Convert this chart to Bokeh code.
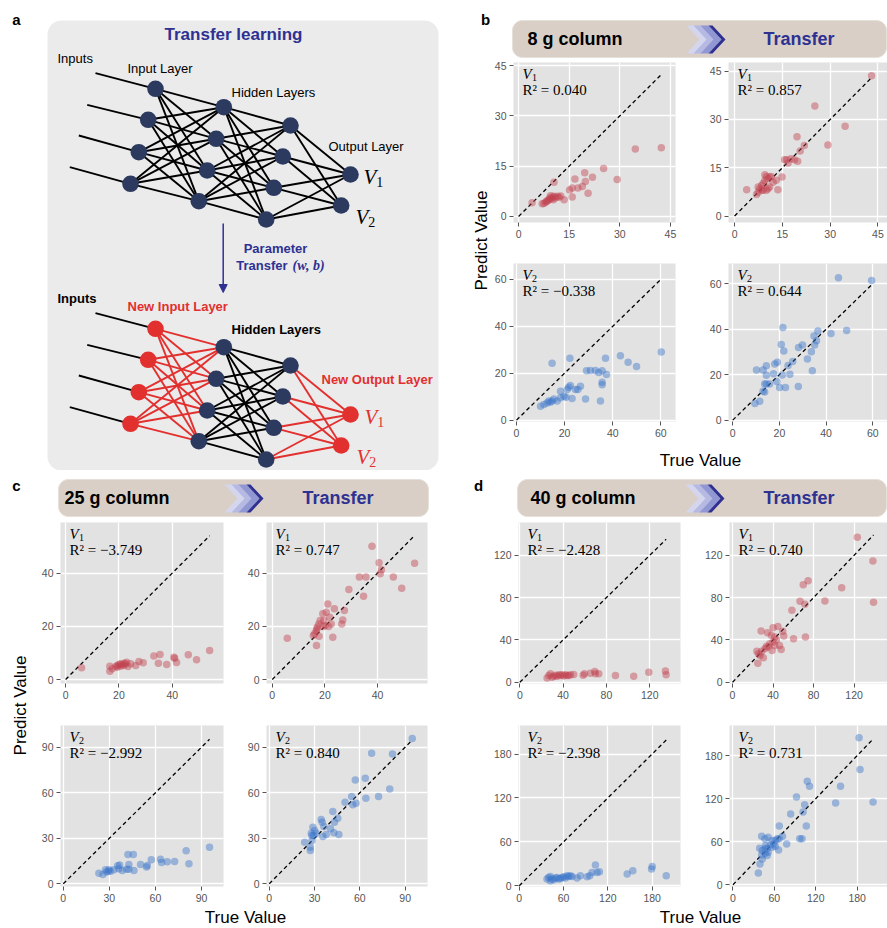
import numpy as np
from bokeh.plotting import figure
from bokeh.layouts import row, column
from bokeh.models import Range1d, FixedTicker, Arrow, NormalHead
from bokeh.core.properties import value
from bokeh.embed import file_html
from bokeh.resources import INLINE

# ---------------- data ----------------
# panel b : 8 g column
b_v1_base_true = [4.0, 7.0, 7.5, 8.0, 8.3, 8.6, 9.0, 9.2, 9.5, 9.8, 10.0, 10.3, 10.5, 11.0, 11.5, 12.0, 12.5, 13.5, 10.5,
                  15.1, 15.9, 15.9, 16.7, 17.6, 18.9, 19.6, 19.8, 20.6, 21.9, 25.2, 29.2, 34.6, 42.3]
b_v1_base_pred = [4.1, 3.8, 3.9, 4.2, 4.5, 4.7, 5.0, 5.5, 6.2, 5.3, 5.8, 5.0, 6.0, 5.6, 6.0, 5.7, 6.1, 5.0, 10.2,
                  7.9, 8.5, 5.8, 11.2, 8.5, 8.9, 13.0, 10.4, 6.9, 11.7, 14.3, 11.0, 20.1, 20.5]
b_v1_tr_true = [3.8, 6.9, 7.4, 7.9, 8.5, 9.0, 9.5, 9.5, 10.0, 10.5, 11.0, 11.5, 10.0, 10.5, 9.0, 11.0, 12.1, 13.1, 8.5,
                7.4, 13.6, 14.9, 15.7, 16.4, 16.8, 17.7, 18.8, 19.6, 19.8, 20.6, 21.9, 25.2, 29.3, 34.7, 43.0]
b_v1_tr_pred = [8.2, 6.7, 7.4, 8.5, 9.5, 10.2, 11.1, 12.8, 12.3, 11.6, 12.1, 12.3, 8.0, 8.5, 8.0, 9.0, 10.5, 11.1, 8.0,
                9.0, 8.2, 12.1, 17.5, 17.5, 16.5, 17.8, 17.5, 24.6, 17.0, 20.2, 21.9, 34.2, 22.1, 27.9, 43.6]
b_v2_base_true = [10.0, 11.4, 12.7, 13.4, 14.1, 14.8, 15.5, 14.8, 16.9, 18.3, 18.3, 19.7, 20.6, 21.1, 21.7, 22.4, 22.2,
                  23.1, 24.5, 25.5, 26.6, 28.7, 29.1, 30.7, 32.8, 34.2, 35.6, 35.6, 35.6, 34.9, 37.0, 37.4, 43.2,
                  46.4, 49.9, 60.2]
b_v2_base_pred = [5.9, 6.6, 7.3, 8.1, 7.6, 8.1, 9.0, 24.3, 8.1, 12.3, 9.5, 10.2, 9.7, 13.0, 14.0, 14.8, 26.4,
                  9.2, 13.0, 13.0, 14.4, 9.0, 21.0, 21.2, 21.2, 20.3, 21.0, 16.1, 15.1, 8.1, 26.4, 19.4, 27.4,
                  24.7, 22.9, 29.0]
b_v2_tr_true = [9.5, 10.2, 11.6, 13.0, 13.0, 13.7, 13.7, 14.4, 14.4, 14.4, 15.8, 17.5, 18.0, 19.1, 18.9, 20.1, 20.8,
                21.5, 21.9, 21.2, 22.6, 23.7, 24.5, 25.7, 28.1, 28.2, 29.9, 32.0, 33.7, 34.1, 34.8, 35.1, 35.9,
                36.5, 42.1, 48.8, 45.3, 59.5]
b_v2_tr_pred = [7.3, 22.1, 8.3, 22.1, 12.7, 15.9, 12.4, 23.9, 19.7, 15.9, 15.9, 20.4, 24.7, 25.5, 17.0, 14.4, 33.3,
                40.8, 30.4, 19.9, 14.4, 24.0, 20.2, 25.8, 14.8, 31.9, 33.0, 26.9, 30.1, 21.7, 37.0, 33.0, 34.9,
                39.2, 38.1, 39.4, 62.6, 61.4]

# panel c : 25 g column
c_v1_base_true = [6.0, 16.6, 16.6, 17.5, 18.8, 19.4, 20.0, 20.6, 21.3, 21.9, 22.5, 22.9, 19.4, 20.6, 21.9, 23.4,
                  24.4, 26.3, 27.5, 29.1, 33.1, 34.8, 35.4, 37.9, 40.6, 40.9, 41.6, 46.0, 49.1, 54.0]
c_v1_base_pred = [4.4, 5.0, 3.1, 4.0, 4.9, 5.3, 5.6, 5.9, 5.5, 6.1, 5.9, 6.5, 4.6, 5.0, 5.3, 4.9,
                  5.9, 5.3, 6.8, 6.3, 8.8, 6.1, 9.4, 5.6, 8.4, 8.0, 6.4, 9.3, 7.4, 10.9]
c_v1_tr_true = [5.7, 16.8, 17.0, 17.8, 15.6, 16.1, 16.7, 17.1, 17.7, 18.2, 19.2, 19.4, 19.6, 20.1, 20.5, 21.1, 21.4,
                21.8, 22.4, 23.0, 23.6, 26.4, 26.8, 27.4, 29.1, 33.1, 34.7, 35.6, 37.9, 40.6, 41.0, 41.5, 46.0,
                49.2, 54.1]
c_v1_tr_pred = [15.5, 12.8, 19.0, 16.3, 16.5, 17.2, 18.2, 19.7, 20.9, 22.2, 24.7, 19.9, 22.2, 20.3, 25.3, 28.4, 19.9,
                23.4, 20.9, 15.9, 26.6, 20.9, 22.4, 25.9, 33.8, 38.5, 31.3, 38.5, 50.1, 43.9, 39.7, 41.2, 38.5,
                34.3, 43.7]
c_v2_base_true = [23.2, 25.8, 27.5, 28.2, 29.3, 29.7, 30.8, 33.0, 35.4, 36.2, 36.7, 38.4, 41.2, 42.1, 42.7, 42.7,
                  45.6, 46.0, 50.3, 54.2, 54.7, 57.3, 63.3, 64.0, 67.7, 72.5, 80.0, 81.8, 95.2]
c_v2_base_pred = [7.0, 6.1, 9.2, 7.7, 8.3, 9.2, 8.3, 9.2, 11.8, 9.9, 12.3, 8.8, 9.6, 19.3, 12.7, 9.6,
                  19.3, 8.8, 12.7, 11.0, 12.1, 15.8, 16.2, 14.0, 14.5, 14.7, 21.7, 13.2, 24.1]
c_v2_tr_true = [23.5, 27.2, 27.2, 27.9, 28.3, 28.9, 29.4, 30.0, 31.1, 28.3, 34.4, 35.1, 35.5, 36.2, 37.7, 40.6, 42.1,
                42.8, 43.2, 45.4, 46.1, 50.2, 54.6, 55.3, 57.0, 57.5, 63.6, 64.0, 67.8, 72.4, 79.8, 81.6, 94.7]
c_v2_tr_pred = [27.4, 21.9, 24.1, 33.3, 28.5, 37.3, 31.8, 35.1, 33.3, 31.8, 42.3, 40.6, 31.1, 37.7, 32.5, 36.2, 47.6,
                33.6, 40.6, 43.2, 32.5, 53.7, 57.5, 52.0, 68.4, 53.1, 69.5, 56.4, 86.0, 57.5, 62.5, 85.5, 95.8]

# panel d : 40 g column
d_v1_base_true = [25.2, 26.8, 28.3, 29.8, 31.4, 32.9, 34.5, 36.0, 37.5, 39.1, 40.6, 42.2, 43.7, 45.2, 46.8, 49.8,
                  58.5, 59.7, 65.2, 69.2, 69.8, 72.9, 88.3, 105.2, 119.1, 134.5, 135.1]
d_v1_base_pred = [4.1, 6.3, 7.9, 4.8, 5.7, 6.7, 5.7, 7.0, 6.3, 7.1, 5.8, 7.1, 6.3, 6.3, 7.0, 7.3,
                  6.7, 7.9, 8.6, 10.2, 7.9, 7.9, 6.3, 5.7, 9.5, 10.5, 7.0]
d_v1_tr_true = [123.2, 138.6, 139.2, 107.8, 91.2, 74.6, 69.8, 66.6, 71.4, 58.6, 60.2, 72.0, 28.2, 34.6, 40.0, 44.8,
                49.6, 50.6, 38.4, 41.6, 43.2, 40.0, 36.8, 33.6, 46.4, 48.0, 39.0, 32.0, 28.8, 24.0, 25.6, 27.2,
                30.4, 25.0, 41.6, 35.2]
d_v1_tr_pred = [137.0, 114.6, 75.6, 89.2, 76.9, 95.9, 92.1, 76.6, 73.7, 68.0, 41.1, 42.7, 48.4, 46.8, 51.6, 52.8,
                48.1, 43.7, 44.3, 42.7, 40.2, 38.0, 36.4, 33.9, 34.8, 31.0, 30.1, 31.6, 29.4, 29.4, 26.9, 25.3,
                23.1, 18.0, 34.8, 33.2]
d_v2_base_true = [37.6, 39.8, 42.1, 42.1, 44.3, 46.6, 48.9, 51.1, 53.4, 55.7, 57.9, 60.2, 62.4, 64.7, 67.0, 69.2,
                  71.5, 78.3, 82.8, 91.9, 95.5, 98.6, 103.2, 105.4, 108.6, 146.2, 153.8, 180.1, 179.2, 199.1]
d_v2_base_pred = [9.1, 11.4, 12.8, 6.8, 9.1, 8.2, 10.5, 11.4, 9.1, 10.0, 11.4, 12.3, 10.5, 13.7, 12.8, 13.7,
                  12.8, 10.5, 13.7, 12.3, 13.7, 18.3, 28.3, 18.3, 19.2, 16.0, 20.5, 26.5, 22.8, 13.7]
d_v2_tr_true = [182.8, 184.2, 203.1, 155.9, 148.8, 107.7, 111.0, 92.1, 103.9, 101.6, 83.6, 106.3, 96.8, 100.1, 67.1,
                77.9, 71.8, 67.1, 64.3, 61.4, 41.6, 46.3, 51.0, 56.7, 59.1, 54.3, 47.2, 38.7, 42.5, 49.6, 56.7,
                66.1, 51.0, 46.8, 41.6, 42.5, 49.6, 36.8, 39.2, 61.4, 46.8]
d_v2_tr_pred = [205.1, 160.7, 115.4, 137.4, 114.0, 144.4, 137.4, 122.4, 111.7, 101.4, 98.6, 81.8, 64.0, 64.0, 81.8,
                57.0, 67.8, 64.0, 64.0, 61.7, 67.8, 64.0, 66.4, 61.7, 57.0, 55.6, 54.7, 50.9, 47.7, 50.9, 52.3,
                48.6, 45.3, 43.9, 41.6, 36.0, 40.7, 16.4, 29.0, 53.7, 50.0]

r2_b = ["0.040", "0.857", "\u22120.338", "0.644"]
r2_c = ["\u22123.749", "0.747", "\u22122.992", "0.840"]
r2_d = ["\u22122.428", "0.740", "\u22122.398", "0.731"]
ticks_b = [[0, 15, 30, 45], [0, 20, 40, 60]]
ticks_c = [[0, 20, 40], [0, 30, 60, 90]]
ticks_d = [[0, 40, 80, 120], [0, 60, 120, 180]]
column_names = ["8 g column", "25 g column", "40 g column"]

# network diagram layout (panel a)
src_x = [95.0, 86.7, 78.3, 69.3]
src_y = [72.7, 104.3, 135.0, 166.7]
in_x = [155.0, 147.7, 138.3, 130.0]
in_y = [88.3, 119.3, 151.7, 183.3]
h1_x = [223.3, 215.7, 206.7, 198.3]
h1_y = [106.7, 138.3, 170.0, 200.7]
h2_x = [290.0, 282.3, 273.3, 265.7]
h2_y = [125.0, 156.0, 187.3, 219.0]
out_x = [350.0, 340.7]
out_y = [174.0, 205.0]
SHIFT = 240.0

# ---------------- styling ----------------
SANS = "Liberation Sans"
SERIF = "Liberation Serif"
NAVY = "#2E3192"
RED = "#E2302F"
NODE = "#2B3A5E"
BANNER = "#D9CFC6"
PANEL_BG = "#EBEBEB"
PLOT_BG = "#E2E2E2"
RED_PT = "#C2424F"
BLUE_PT = "#3B75C9"


def canvas(w, h, x0, y0):
    p = figure(width=w, height=h, x_range=Range1d(x0, x0 + w), y_range=Range1d(y0 + h, y0),
               min_border=0, toolbar_location=None, output_backend="svg",
               x_axis_location=None, y_axis_location=None, title=None)
    p.grid.visible = False
    p.outline_line_color = None
    p.background_fill_color = "white"
    p.border_fill_color = "white"
    return p


def txt(p, x, y, s, size, color="black", font=SANS, style="normal", align="left",
        baseline="middle", angle=0.0):
    p.text(x=[x], y=[y], text=[s], text_font=value(font), text_font_size=f"{size}px",
           text_font_style=style, text_color=color, text_align=align,
           text_baseline=baseline, angle=angle)


def rrect(p, x0, x1, y0, y1, r, **kw):
    t = np.linspace(0, np.pi / 2, 12)
    xs, ys = [], []
    for cx, cy, a0 in [(x1 - r, y0 + r, -np.pi / 2), (x1 - r, y1 - r, 0.0),
                       (x0 + r, y1 - r, np.pi / 2), (x0 + r, y0 + r, np.pi)]:
        a = a0 + t
        xs += list(cx + r * np.cos(a))
        ys += list(cy + r * np.sin(a))
    p.patch(xs, ys, **kw)


def chevrons(p, x0, yt, yb):
    ym = (yt + yb) / 2
    d = 13
    for off, th, col in [(0, 8, "#D4D6EE"), (7, 8, "#B6BAE2"), (14, 8, "#9197D2"), (22, 4, NAVY)]:
        xs = [x0 + off, x0 + off + th, x0 + off + th + d, x0 + off + th, x0 + off, x0 + off + d]
        ys = [yt, yt, ym, yb, yb, ym]
        p.patch(xs, ys, fill_color=col, line_color=None)


def banner(p, band, name, name_x, chev_x, tr_x):
    x0, x1, y0, y1 = band
    yc = (y0 + y1) / 2
    rrect(p, x0, x1, y0, y1, 10, fill_color=BANNER, line_color="#E6E0DA", line_width=1)
    txt(p, name_x, yc, name, 18, style="bold")
    chevrons(p, chev_x, y0 + 5, y1 - 4)
    txt(p, tr_x, yc, "Transfer", 18, color=NAVY, style="bold")


def vlabel(p, x, yc, sub, size, color="black"):
    # italic V with an upright subscript digit
    txt(p, x, yc, "V", size, color=color, font=SERIF, style="italic")
    txt(p, x + 0.61 * size, yc + 0.27 * size, sub, round(size * 0.68), color=color, font=SERIF)


def scat(w, h, bl, br, bt, bb, xr, yr, ticks, tx, ty, color, sub, r2):
    p = figure(width=w, height=h, x_range=Range1d(*xr), y_range=Range1d(*yr),
               min_border_left=bl, min_border_right=br, min_border_top=bt, min_border_bottom=bb,
               toolbar_location=None, output_backend="svg", title=None)
    p.background_fill_color = PLOT_BG
    p.border_fill_color = "white"
    p.outline_line_color = None
    for ax in (p.xaxis[0], p.yaxis[0]):
        ax.ticker = FixedTicker(ticks=ticks)
        ax.axis_line_color = None
        ax.major_tick_line_color = "#555555"
        ax.major_tick_line_width = 1
        ax.major_tick_out = 4
        ax.major_tick_in = 0
        ax.minor_tick_line_color = None
        ax.major_label_text_color = "#555555"
        ax.major_label_text_font = SANS
        ax.major_label_text_font_size = "10.5px"
        ax.major_label_standoff = 3
    p.grid.grid_line_color = "white"
    p.grid.grid_line_width = 1.3
    m = max(tx)
    p.line([0, m], [0, m], line_color="black", line_width=1.3, line_dash="4 3")
    p.scatter(tx, ty, size=7.5, fill_color=color, fill_alpha=0.45, line_color=None)
    fw = w - bl - br
    fh = h - bt - bb
    ux = (xr[1] - xr[0]) / fw
    uy = (yr[1] - yr[0]) / fh
    # annotation positioned in frame pixels from the top-left corner
    txt(p, xr[0] + 9 * ux, yr[1] - 11 * uy, "V", 15, font=SERIF, style="italic")
    txt(p, xr[0] + 18.5 * ux, yr[1] - 15 * uy, sub, 10, font=SERIF)
    txt(p, xr[0] + 9 * ux, yr[1] - 27.5 * uy, "R\u00b2 = " + r2, 15, font=SERIF)
    return p


# ---------------- panel a ----------------
fig_a = canvas(490, 470, 0, 0)
rrect(fig_a, 47, 438, 20, 470, 14, fill_color=PANEL_BG, line_color=None)
txt(fig_a, 16, 19, "a", 15, style="bold", align="center")
txt(fig_a, 485, 19, "b", 15, style="bold", align="center")
txt(fig_a, 481, 240, "Predict Value", 17, align="center", angle=np.pi / 2)
txt(fig_a, 233, 34, "Transfer learning", 17, color=NAVY, style="bold", align="center")


def network(p, dy, c_in, c_e1, c_e3, c_out):
    def full(ax_, ay_, bx_, by_, col):
        xs, ys = [], []
        for i in range(len(ax_)):
            for j in range(len(bx_)):
                xs.append([ax_[i], bx_[j]])
                ys.append([ay_[i] + dy, by_[j] + dy])
        p.multi_line(xs, ys, line_color=col, line_width=1.9)

    p.multi_line([[a, b] for a, b in zip(src_x, in_x)],
                 [[a + dy, b + dy] for a, b in zip(src_y, in_y)], line_color="black", line_width=1.9)
    full(in_x, in_y, h1_x, h1_y, c_e1)
    full(h1_x, h1_y, h2_x, h2_y, "black")
    full(h2_x, h2_y, out_x, out_y, c_e3)
    p.circle(in_x, [v + dy for v in in_y], radius=8.3, fill_color=c_in, line_color=None)
    p.circle(h1_x, [v + dy for v in h1_y], radius=8.3, fill_color=NODE, line_color=None)
    p.circle(h2_x, [v + dy for v in h2_y], radius=8.3, fill_color=NODE, line_color=None)
    p.circle(out_x, [v + dy for v in out_y], radius=8.3, fill_color=c_out, line_color=None)


network(fig_a, 0.0, NODE, "black", "black", NODE)
network(fig_a, SHIFT, RED, RED, RED, RED)

txt(fig_a, 57, 58, "Inputs", 13)
txt(fig_a, 127, 68, "Input Layer", 13)
txt(fig_a, 231, 92, "Hidden Layers", 13)
txt(fig_a, 328, 146, "Output Layer", 13)
vlabel(fig_a, 363, 176, "1", 21)
vlabel(fig_a, 355, 216, "2", 21)

fig_a.add_layout(Arrow(end=NormalHead(size=8, fill_color=NAVY, line_color=NAVY),
                       x_start=222.7, y_start=223, x_end=222.7, y_end=292,
                       line_color=NAVY, line_width=1.5))
txt(fig_a, 275, 248, "Parameter", 13, color=NAVY, style="bold", align="center")
txt(fig_a, 235.7, 265, "Transfer", 13, color=NAVY, style="bold")
txt(fig_a, 292, 265, "(w, b)", 14, color=NAVY, font=SERIF, style="bold italic")

txt(fig_a, 57, 298, "Inputs", 13, style="bold")
txt(fig_a, 127, 306, "New Input Layer", 13, color=RED, style="bold")
txt(fig_a, 231, 329, "Hidden Layers", 13, style="bold")
txt(fig_a, 321, 379, "New Output Layer", 13, color=RED, style="bold")
vlabel(fig_a, 364, 416, "1", 21, RED)
vlabel(fig_a, 356, 456, "2", 21, RED)

# ---------------- panel b ----------------
hdr_b = canvas(397, 58, 490, 0)
banner(hdr_b, (512, 886, 20, 57), column_names[0], 527, 686, 763)
s_b11 = scat(210, 192, 23, 25, 4, 28, (-1.5, 46.5), (-1.8, 45.9), ticks_b[0],
             b_v1_base_true, b_v1_base_pred, RED_PT, "1", r2_b[0])
s_b12 = scat(187, 192, 28, 0, 4, 28, (-1.9, 48.0), (-2.0, 47.7), ticks_b[0],
             b_v1_tr_true, b_v1_tr_pred, RED_PT, "1", r2_b[1])
s_b21 = scat(210, 197, 23, 25, 13, 26, (-1.25, 66.1), (-0.6, 66.8), ticks_b[1],
             b_v2_base_true, b_v2_base_pred, BLUE_PT, "2", r2_b[2])
s_b22 = scat(187, 197, 28, 0, 13, 26, (-1.8, 66.3), (-0.6, 68.9), ticks_b[1],
             b_v2_tr_true, b_v2_tr_pred, BLUE_PT, "2", r2_b[3])
ftr_b = canvas(397, 23, 490, 447)
txt(ftr_b, 700, 460, "True Value", 17, align="center")
col_b = column(hdr_b, row(s_b11, s_b12), row(s_b21, s_b22), ftr_b)

# ---------------- panel c ----------------
hdr_c = canvas(440, 48, 0, 470)
txt(hdr_c, 16, 485, "c", 15, style="bold", align="center")
banner(hdr_c, (58, 428, 479, 516), column_names[1], 64, 224, 302)
strip_c = canvas(30, 388, 0, 518)
txt(strip_c, 20, 705, "Predict Value", 17, align="center", angle=np.pi / 2)
s_c11 = scat(214, 194, 30, 21, 4, 29, (-1.9, 59.2), (-1.5, 59.0), ticks_c[0],
             c_v1_base_true, c_v1_base_pred, RED_PT, "1", r2_c[0])
s_c12 = scat(196, 194, 21, 13, 4, 29, (-2.2, 59.0), (-1.5, 59.0), ticks_c[0],
             c_v1_tr_true, c_v1_tr_pred, RED_PT, "1", r2_c[1])
s_c21 = scat(214, 194, 30, 21, 13, 20, (-1.8, 104.3), (-1.8, 104.3), ticks_c[1],
             c_v2_base_true, c_v2_base_pred, BLUE_PT, "2", r2_c[2])
s_c22 = scat(196, 194, 21, 13, 13, 20, (-1.8, 104.8), (-1.8, 104.3), ticks_c[1],
             c_v2_tr_true, c_v2_tr_pred, BLUE_PT, "2", r2_c[3])
ftr_c = canvas(440, 22, 0, 906)
txt(ftr_c, 245, 917, "True Value", 17, align="center")
col_c = column(hdr_c, row(strip_c, column(row(s_c11, s_c12), row(s_c21, s_c22))), ftr_c)

# ---------------- panel d ----------------
hdr_d = canvas(447, 48, 440, 470)
txt(hdr_d, 478, 485, "d", 15, style="bold", align="center")
banner(hdr_d, (517, 886, 479, 516), column_names[2], 530, 685, 763)
s_d11 = scat(260, 194, 78, 20, 4, 29, (-1.2, 148.4), (-1.2, 151.0), ticks_d[0],
             d_v1_base_true, d_v1_base_pred, RED_PT, "1", r2_d[0])
s_d12 = scat(187, 194, 29, 0, 4, 29, (-3.0, 153.0), (-1.2, 151.0), ticks_d[0],
             d_v1_tr_true, d_v1_tr_pred, RED_PT, "1", r2_d[1])
s_d21 = scat(260, 194, 78, 20, 13, 20, (-1.0, 218.4), (-1.0, 219.0), ticks_d[1],
             d_v2_base_true, d_v2_base_pred, BLUE_PT, "2", r2_d[2])
s_d22 = scat(187, 194, 29, 0, 13, 20, (-5.0, 224.0), (-2.4, 222.0), ticks_d[1],
             d_v2_tr_true, d_v2_tr_pred, BLUE_PT, "2", r2_d[3])
ftr_d = canvas(447, 22, 440, 906)
txt(ftr_d, 700, 917, "True Value", 17, align="center")
col_d = column(hdr_d, column(row(s_d11, s_d12), row(s_d21, s_d22)), ftr_d)

layout = column(row(fig_a, col_b), row(col_c, col_d))

open("out.html", "w").write(file_html(layout, INLINE, title="Transfer learning"))
